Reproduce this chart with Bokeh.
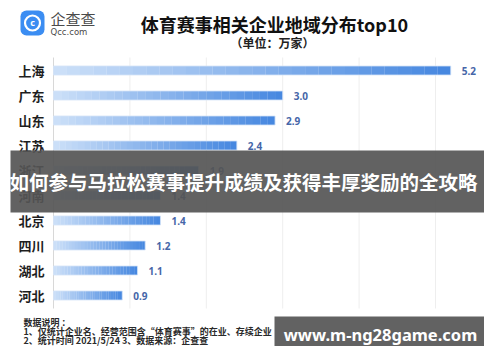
from bokeh.plotting import figure
from bokeh.models import Range1d, Label, BoxAnnotation, ColumnDataSource
from bokeh.core.properties import value
from bokeh.embed import file_html
from bokeh.resources import INLINE

# ---- data ----
categories = ["上海", "广东", "山东", "江苏", "浙江", "河南", "北京", "四川", "湖北", "河北"]
values = [5.2, 3.0, 2.9, 2.4, 1.9, 1.4, 1.4, 1.2, 1.1, 0.9]
grid_ticks = [1, 2, 3, 4, 5]
title_text = "体育赛事相关企业地域分布top10"
unit_text = "（单位：万家）"
banner_text = "如何参与马拉松赛事提升成绩及获得丰厚奖励的全攻略"
site_text = "www.m-ng28game.com"
notes = ["数据说明 ：",
         "1、仅统计企业名、经营范围含“体育赛事”的在业、存续企业",
         "2、统计时间  2021/5/24    3、数据来源：企查查"]

# ---- layout helpers ----
W, H = 484, 346
X0, XS = 53.0, 76.4      # pixel of x=0, pixels per unit
Y0, YS = 70.0, 25.0      # pixel (from top) of first category, pixels per category
def X(px):
    return (px - X0) / XS
def Y(py):
    return (py - Y0) / YS

CJK = "Noto Sans CJK SC"
p = figure(width=W, height=H, output_backend="svg", toolbar_location=None,
           x_range=Range1d(-X0 / XS, (W - X0) / XS),
           y_range=Range1d((H - Y0) / YS, -Y0 / YS),
           x_axis_location=None, y_axis_location=None, min_border=0,
           outline_line_color=None, background_fill_color="white",
           border_fill_color="white")
p.grid.visible = False

n = len(categories)
ys = list(range(n))

# grid lines and axis line
p.segment(x0=grid_ticks, x1=grid_ticks, y0=[-0.52] * len(grid_ticks), y1=[n - 0.48] * len(grid_ticks),
          line_color="#eeeeee", line_width=1)
p.segment(x0=[0], x1=[0], y0=[-0.52], y1=[n - 0.48], line_color="#d8d8d8", line_width=1)

# gradient bars (slices)
c0 = (0xcb, 0xdf, 0xf8)
c1 = (0x47, 0x88, 0xe0)
NS = 30
sl = dict(y=[], left=[], right=[], color=[])
for yi, v in zip(ys, values):
    for j in range(NS):
        t = j / (NS - 1)
        col = "#%02x%02x%02x" % tuple(int(round(a + (b - a) * t)) for a, b in zip(c0, c1))
        sl["y"].append(yi)
        sl["left"].append(v * j / NS)
        sl["right"].append(v * (j + 1) / NS + (0.002 if j < NS - 1 else 0))
        sl["color"].append(col)
p.hbar(y="y", left="left", right="right", height=0.36, fill_color="color",
       line_color=None, source=ColumnDataSource(sl))
p.hbar(y=ys, left=[0] * n, right=values, height=0.36, fill_alpha=0,
       line_color="#d4e4f8", line_width=1, line_alpha=0.8)

# category labels and value labels
p.text(x=[0] * n, y=ys, text=categories, x_offset=-9, text_align="right",
       text_baseline="middle", text_font=value(CJK), text_font_style="bold",
       text_font_size="13px", text_color="#1e1e1e")
p.text(x=values, y=ys, text=[f"{v:.1f}" for v in values], x_offset=11,
       text_align="left", text_baseline="middle", text_font=value("Noto Sans"),
       text_font_style="bold", text_font_size="10px", text_color="#4666a8")

# title + unit
p.add_layout(Label(x=X(274), y=Y(23), text=title_text, text_align="center",
                   text_baseline="middle", text_font=CJK, text_font_style="bold",
                   text_font_size="18px", text_color="#111111"))
p.add_layout(Label(x=X(272), y=Y(42), text=unit_text, text_align="center",
                   text_baseline="middle", text_font=CJK, text_font_style="bold",
                   text_font_size="12px", text_color="#222222"))

# logo
p.add_layout(BoxAnnotation(left=X(20), right=X(44), top=Y(10), bottom=Y(35),
                           fill_color="#3b8df2", fill_alpha=1, line_color=None,
                           border_radius=6, level="underlay"))
p.scatter(x=[X(32)], y=[Y(22.5)], marker="circle", size=15, fill_alpha=0,
          line_color="white", line_width=2.2)
p.add_layout(Label(x=X(32), y=Y(22), text="c", text_align="center",
                   text_baseline="middle", text_font="Noto Sans", text_font_style="bold",
                   text_font_size="9px", text_color="white"))
p.add_layout(Label(x=X(50), y=Y(18), text="企查查", text_align="left",
                   text_baseline="middle", text_font=CJK,
                   text_font_size="15px", text_color="#4a4a4a"))
p.add_layout(Label(x=X(50), y=Y(31.5), text="Qcc.com", text_align="left",
                   text_baseline="middle", text_font="DejaVu Sans",
                   text_font_size="8.5px", text_color="#4a4a4a"))

# notes
for i, line in enumerate(notes):
    p.add_layout(Label(x=X(23), y=Y(322 + 9 * i), text=line, text_align="left",
                       text_baseline="middle", text_font=CJK, text_font_style="bold",
                       text_font_size="9px", text_color="#2a2a2a"))

# overlay banners
p.add_layout(BoxAnnotation(left=X(10), right=X(491), top=Y(150), bottom=Y(212),
                           fill_color="#555555", fill_alpha=0.92, line_color=None))
p.add_layout(Label(x=X(243), y=Y(181), text=banner_text, text_align="center",
                   text_baseline="middle", text_font=CJK, text_font_style="bold",
                   text_font_size="19.5px", text_color="white"))
p.add_layout(BoxAnnotation(left=X(274), right=X(491), top=Y(316), bottom=Y(353),
                           fill_color="#5a5a5a", fill_alpha=0.95, line_color=None))
p.add_layout(Label(x=X(380), y=Y(334), text=site_text, text_align="center",
                   text_baseline="middle", text_font="Noto Sans", text_font_style="bold",
                   text_font_size="16.5px", text_color="white"))

open("out.html", "w").write(file_html(p, INLINE))
